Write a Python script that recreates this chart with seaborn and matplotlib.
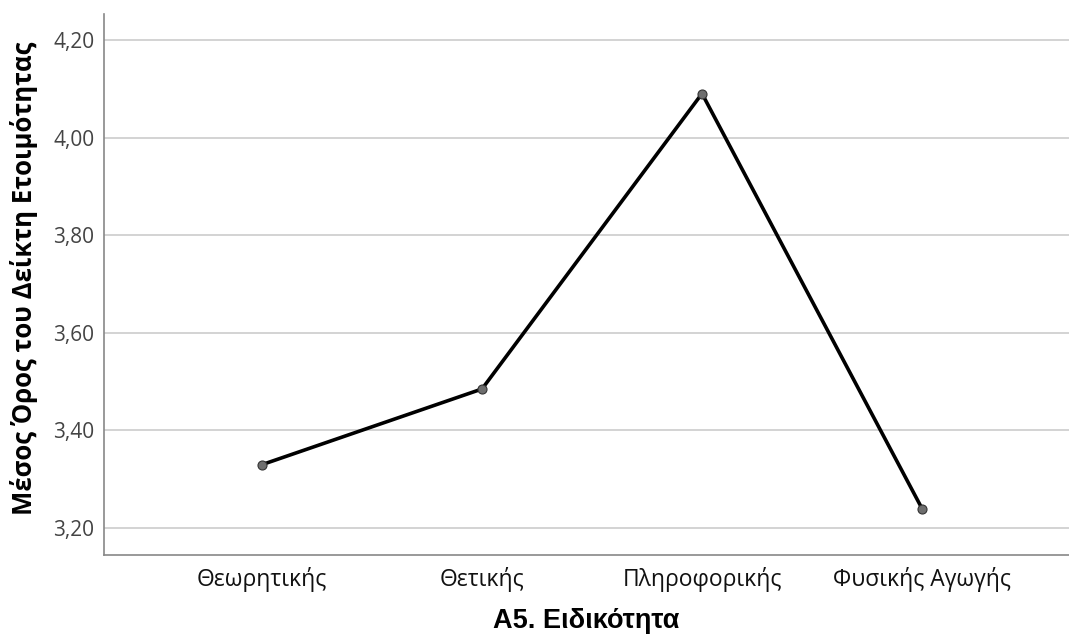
import matplotlib
matplotlib.use('Agg')
import matplotlib.pyplot as plt
import seaborn as sns
import pandas as pd
from matplotlib.ticker import FuncFormatter

# data
specialties = ['Θεωρητικής', 'Θετικής', 'Πληροφορικής', 'Φυσικής Αγωγής']
mean_scores = [3.33, 3.485, 4.09, 3.24]
y_ticks = [3.20, 3.40, 3.60, 3.80, 4.00, 4.20]

df = pd.DataFrame({'spec': range(len(specialties)), 'score': mean_scores})

sns.set_theme(style='white')
plt.rcParams['font.family'] = ['Open Sans', 'DejaVu Sans']

fig = plt.figure(figsize=(10.69, 6.41), dpi=100)
ax = fig.add_axes([0.0973, 0.1342, 0.9027, 0.8440])

sns.lineplot(data=df, x='spec', y='score', ax=ax, color='black', linewidth=2.6,
             marker='o', markersize=6.5, markerfacecolor='#6e6e6e',
             markeredgecolor='#333333', markeredgewidth=0.8, zorder=3)

ax.set_ylim(3.145, 4.253)
ax.set_xlim(-0.718, 3.668)
ax.set_yticks(y_ticks)
ax.yaxis.set_major_formatter(FuncFormatter(lambda v, p: f'{v:.2f}'.replace('.', ',')))
ax.set_xticks(range(len(specialties)))
ax.set_xticklabels(specialties)

ax.grid(axis='y', color='#cccccc', linewidth=1.2)
ax.set_axisbelow(True)
for side in ['top', 'right']:
    ax.spines[side].set_visible(False)
for side in ['left', 'bottom']:
    ax.spines[side].set_color('#888888')
    ax.spines[side].set_linewidth(1.2)

ax.tick_params(axis='x', length=0, labelsize=16.5, colors='#111111', pad=9)
ax.tick_params(axis='y', length=0, labelsize=15, colors='#444444', pad=7)

ax.set_xlabel('Α5. Ειδικότητα', fontsize=19.5, fontweight='bold', labelpad=11,
              family=['Liberation Sans', 'DejaVu Sans'], color='black')
ax.set_ylabel('Μέσος Όρος του Δείκτη Ετοιμότητας', fontsize=18.5, fontweight='bold', color='black')
ax.yaxis.set_label_coords(-0.068, 0.512)

plt.savefig('out.png', dpi=100)
plt.close()
